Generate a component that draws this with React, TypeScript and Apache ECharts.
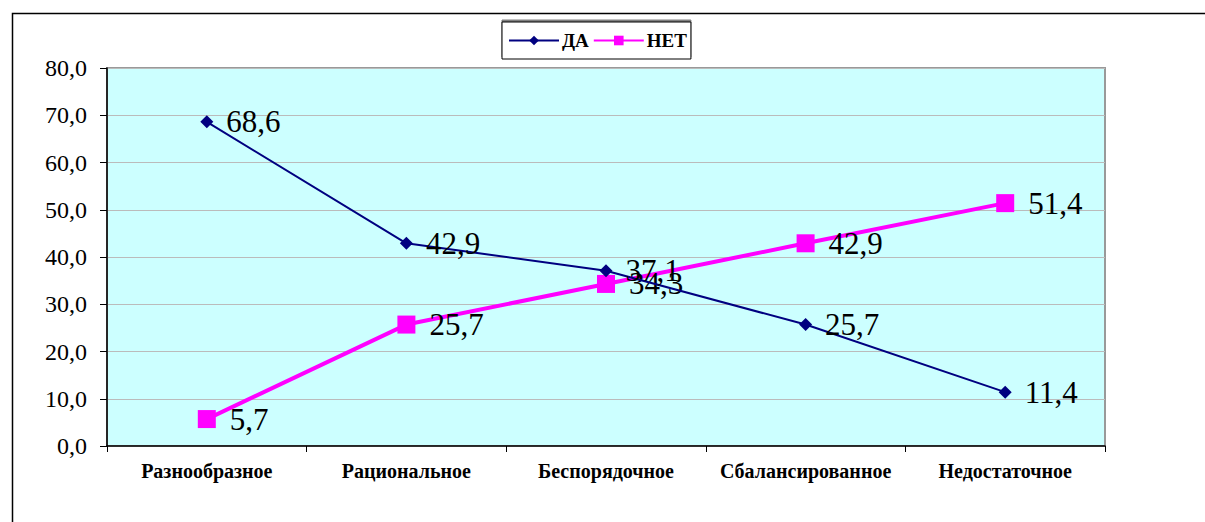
import React, { useEffect, useRef } from "react";
import * as echarts from "echarts";

const categories = ["Разнообразное", "Рациональное", "Беспорядочное", "Сбалансированное", "Недостаточное"];
const daValues = [68.6, 42.9, 37.1, 25.7, 11.4];
const netValues = [5.7, 25.7, 34.3, 42.9, 51.4];
const seriesNames = ["ДА", "НЕТ"];

const fmt = (v: number) => v.toFixed(1).replace(".", ",");

export default function App() {
  const ref = useRef<HTMLDivElement>(null);
  useEffect(() => {
    document.body.style.margin = "0";
    const chart = echarts.init(ref.current!, null, { renderer: "svg" });
    const serif = "Times New Roman, Liberation Serif, DejaVu Serif, serif";
    chart.setOption({
      animation: false,
      backgroundColor: "#ffffff",
      textStyle: { fontFamily: serif },
      graphic: [
        {
          type: "rect",
          left: 10,
          top: 11,
          shape: { width: 1300, height: 600 },
          style: { fill: "none", stroke: "#000000", lineWidth: 1.5 },
          z: 0,
        },
      ],
      legend: {
        left: 502,
        top: 22,
        padding: [9, 4, 9, 6],
        itemGap: 4,
        itemWidth: 50,
        itemHeight: 12,
        borderColor: "#000000",
        borderWidth: 1,
        backgroundColor: "#ffffff",
        shadowColor: "rgba(0,0,0,0.5)",
        shadowOffsetY: -2,
        textStyle: { fontFamily: serif, fontWeight: "bold", fontSize: 19, color: "#000000", padding: [0, 0, 0, -2] },
        data: seriesNames,
      },
      grid: {
        left: 107,
        right: 100,
        top: 68,
        bottom: 76,
        show: true,
        backgroundColor: "#CCFFFF",
        borderColor: "#999999",
        borderWidth: 2,
      },
      xAxis: {
        type: "category",
        data: categories,
        boundaryGap: true,
        axisLine: { lineStyle: { color: "#000000", width: 1.5 } },
        axisTick: { show: true, alignWithLabel: false, length: 6, lineStyle: { color: "#000000" } },
        axisLabel: { interval: 0, fontFamily: serif, fontWeight: "bold", fontSize: 20, color: "#000000", margin: 15 },
      },
      yAxis: {
        type: "value",
        min: 0,
        max: 80,
        interval: 10,
        axisLine: { show: true, lineStyle: { color: "#000000", width: 1.5 } },
        axisTick: { show: true, length: 7, lineStyle: { color: "#000000" } },
        axisLabel: { fontFamily: serif, fontSize: 24, color: "#000000", margin: 20, formatter: (v: number) => fmt(v) },
        splitLine: { show: true, lineStyle: { color: "#bbbbbb", width: 1 } },
      },
      series: [
        {
          name: seriesNames[0],
          type: "line",
          data: daValues,
          color: "#000080",
          symbol: "diamond",
          symbolSize: 13,
          lineStyle: { color: "#000080", width: 2 },
          itemStyle: { color: "#000080" },
          label: {
            show: true,
            position: "right",
            distance: 13,
            fontFamily: serif,
            fontSize: 31,
            color: "#000000",
            formatter: (p: any) => fmt(p.value),
          },
          z: 3,
        },
        {
          name: seriesNames[1],
          type: "line",
          data: netValues,
          color: "#FF00FF",
          symbol: "rect",
          symbolSize: 18,
          lineStyle: { color: "#FF00FF", width: 4 },
          itemStyle: { color: "#FF00FF" },
          label: {
            show: true,
            position: "right",
            distance: 14,
            fontFamily: serif,
            fontSize: 31,
            color: "#000000",
            formatter: (p: any) => fmt(p.value),
          },
          z: 2,
        },
      ],
    });
    return () => chart.dispose();
  }, []);
  return <div ref={ref} style={{ width: 1205, height: 522 }} />;
}
